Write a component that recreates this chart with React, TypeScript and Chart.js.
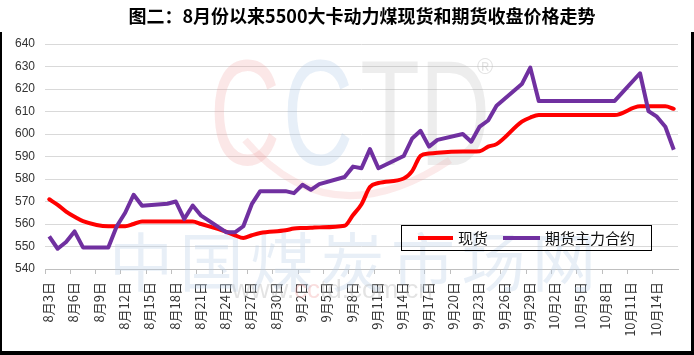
import React, { useEffect, useRef } from "react";
import { Chart, registerables } from "chart.js";

Chart.register(...registerables);

const TITLE = "图二：8月份以来5500大卡动力煤现货和期货收盘价格走势";
const SERIES_NAMES = ["现货", "期货主力合约"];

const DATES = [
  "8/3", "8/4", "8/5", "8/6", "8/7",
  "8/10", "8/11", "8/12", "8/13", "8/14",
  "8/17", "8/18", "8/19", "8/20", "8/21",
  "8/24", "8/25", "8/26", "8/27", "8/28",
  "8/31", "9/1", "9/2", "9/3", "9/4",
  "9/7", "9/8", "9/9", "9/10", "9/11",
  "9/14", "9/15", "9/16", "9/17", "9/18",
  "9/21", "9/22", "9/23", "9/24", "9/25",
  "9/28", "9/29", "9/30", "10/9",
  "10/12", "10/13", "10/14", "10/15", "10/16",
];

const SPOT = [
  571, 568.5, 565.5, 563.2, 561.3,
  559, 559, 559, 560, 561.1,
  561.1, 561.1, 561.1, 561.1, 560,
  556.5, 555, 553.8, 555, 556,
  557.2, 558, 558.2, 558.3, 558.5,
  559.2, 564, 568.8, 576.4, 578.2,
  580.2, 583.5, 590.3, 591.3, 591.7,
  592.2, 592.2, 592.3, 594.4, 595.5,
  605.5, 607.3, 608.4, 608.4,
  612.3, 612.3, 612.3, 612.3, 611.2,
];

const FUTURES = [
  554.5, 549, 552, 556.7, 549.6,
  549.6, 559, 565, 573, 568.1,
  569, 570, 562.2, 568.2, 563.7,
  556.3, 556.3, 559, 568.8, 574.6,
  574.6, 573.7, 577.4, 575.2, 577.7,
  580.9, 585.5, 584.8, 593.3, 584.8,
  590.2, 598, 601.4, 594.4, 597.4,
  600, 596.6, 603.3, 606, 612.6,
  622.2, 629.5, 614.7, 614.7,
  627, 610.2, 607.7, 603.2, 593,
];

const TICK_LABELS = [
  "8月3日", "8月6日", "8月9日", "8月12日", "8月15日", "8月18日", "8月21日",
  "8月24日", "8月27日", "8月30日", "9月2日", "9月5日", "9月8日", "9月11日",
  "9月14日", "9月17日", "9月20日", "9月23日", "9月26日", "9月29日",
  "10月2日", "10月5日", "10月8日", "10月11日", "10月14日",
];

const Y_MIN = 540;
const Y_MAX = 640;
const Y_STEP = 10;
const X_DAYS = 75;
const TICK_EVERY = 3;

function dayOffset(md: string): number {
  const [m, d] = md.split("/").map(Number);
  const base = Date.UTC(2020, 7, 3);
  return Math.round((Date.UTC(2020, m - 1, d) - base) / 86400000);
}

const CJK = '"Noto Sans CJK SC", "Noto Sans", sans-serif';
const LAT = '"Liberation Sans", Arial, sans-serif';

const decorPlugin = {
  id: "decor",
  beforeDatasetsDraw(chart: any) {
    const ctx = chart.ctx as CanvasRenderingContext2D;
    ctx.save();
    // CCTD watermark
    ctx.font = "150px " + LAT;
    ctx.textAlign = "center";
    ctx.textBaseline = "alphabetic";
    const letters: [string, number, string][] = [
      ["C", 245, "rgba(240,160,160,0.25)"],
      ["C", 318, "rgba(160,190,228,0.25)"],
      ["T", 390, "rgba(175,175,175,0.22)"],
      ["D", 455, "rgba(175,175,175,0.22)"],
    ];
    for (const [ch, x, col] of letters) {
      ctx.save();
      ctx.translate(x, 165);
      ctx.scale(0.65, 1);
      ctx.fillStyle = col;
      ctx.fillText(ch, 0, 0);
      ctx.restore();
    }
    ctx.beginPath();
    ctx.moveTo(245, 140);
    ctx.quadraticCurveTo(330, 240, 450, 160);
    ctx.strokeStyle = "rgba(240,160,160,0.22)";
    ctx.lineWidth = 7;
    ctx.stroke();
    ctx.font = "22px " + LAT;
    ctx.fillStyle = "rgba(175,175,175,0.35)";
    ctx.fillText("®", 485, 74);
    // 中国煤炭市场网
    ctx.font = "64px " + CJK;
    ctx.textBaseline = "middle";
    ctx.fillStyle = "rgba(185,205,232,0.33)";
    const wm = "中国煤炭市场网";
    for (let i = 0; i < wm.length; i++) {
      ctx.fillText(wm[i], 141 + i * 70.5, 262);
    }
    // url
    ctx.font = "26px " + LAT;
    ctx.textAlign = "left";
    ctx.textBaseline = "alphabetic";
    const parts: [string, string][] = [
      ["www.", "rgba(175,175,175,0.35)"],
      ["cc", "rgba(240,160,160,0.35)"],
      ["td.com.cn", "rgba(175,175,175,0.35)"],
    ];
    let ux = 232;
    for (const [t, col] of parts) {
      ctx.fillStyle = col;
      ctx.fillText(t, ux, 298);
      ux += ctx.measureText(t).width;
    }
    ctx.restore();
  },
  afterDatasetsDraw(chart: any) {
    const ctx = chart.ctx as CanvasRenderingContext2D;
    const ds = chart.data.datasets;
    ctx.save();
    ctx.strokeStyle = "#000";
    ctx.lineWidth = 1;
    ctx.strokeRect(401.5, 225.5, 250, 25);
    ctx.font = "15px " + CJK;
    ctx.textBaseline = "middle";
    ctx.textAlign = "left";
    const items = [
      { x0: 418, x1: 453, tx: 458 },
      { x0: 503, x1: 540, tx: 545 },
    ];
    items.forEach((it, i) => {
      ctx.beginPath();
      ctx.moveTo(it.x0, 238);
      ctx.lineTo(it.x1, 238);
      ctx.strokeStyle = ds[i].borderColor;
      ctx.lineWidth = 4;
      ctx.stroke();
      ctx.fillStyle = "#111";
      ctx.fillText(ds[i].label, it.tx, 238);
    });
    ctx.restore();
  },
  afterDraw(chart: any) {
    const ctx = chart.ctx as CanvasRenderingContext2D;
    ctx.save();
    ctx.font = "bold 18px " + CJK;
    ctx.fillStyle = "#000";
    ctx.textAlign = "center";
    ctx.textBaseline = "middle";
    ctx.fillText(TITLE, 362, 16);
    ctx.fillStyle = "#000";
    ctx.fillRect(0, 32, 2, 323);
    ctx.fillRect(691, 32, 3, 323);
    ctx.fillRect(0, 351, 694, 4);
    ctx.restore();
  },
};

export default function App() {
  const ref = useRef<HTMLCanvasElement | null>(null);

  useEffect(() => {
    document.body.style.margin = "0";
    const canvas = ref.current;
    if (!canvas) return;
    const spotPts = DATES.map((d, i) => ({ x: dayOffset(d) + 0.5, y: SPOT[i] }));
    const futPts = DATES.map((d, i) => ({ x: dayOffset(d) + 0.5, y: FUTURES[i] }));
    const chart = new Chart(canvas, {
      type: "line",
      data: {
        datasets: [
          {
            label: SERIES_NAMES[0],
            data: spotPts,
            borderColor: "#ff0000",
            backgroundColor: "#ff0000",
            borderWidth: 4,
            pointRadius: 0,
            cubicInterpolationMode: "monotone",
            borderJoinStyle: "round",
            borderCapStyle: "round",
            order: 2,
          },
          {
            label: SERIES_NAMES[1],
            data: futPts,
            borderColor: "#7030a0",
            backgroundColor: "#7030a0",
            borderWidth: 4,
            pointRadius: 0,
            tension: 0,
            borderJoinStyle: "round",
            order: 1,
          },
        ],
      },
      options: {
        animation: false,
        responsive: false,
        layout: { padding: { top: 44, right: 16, left: 0, bottom: 0 } },
        plugins: {
          legend: { display: false },
          title: { display: false },
          tooltip: { enabled: false },
        },
        scales: {
          x: {
            type: "linear",
            min: 0,
            max: X_DAYS,
            afterBuildTicks: (s: any) => {
              s.ticks = TICK_LABELS.map((_, i) => ({ value: i * TICK_EVERY }));
            },
            afterFit: (s: any) => {
              s.height = 86;
            },
            ticks: {
              autoSkip: false,
              minRotation: 90,
              maxRotation: 90,
              padding: 8,
              labelOffset: 3,
              color: "#333",
              font: { size: 13, family: CJK },
              callback: (v: any) => TICK_LABELS[Math.round(Number(v) / TICK_EVERY)] ?? "",
            },
            grid: {
              drawOnChartArea: false,
              drawTicks: true,
              tickLength: 5,
              color: "#bfbfbf",
            },
            border: { color: "#bfbfbf" },
          },
          y: {
            min: Y_MIN,
            max: Y_MAX,
            afterFit: (s: any) => {
              s.width = 45;
            },
            ticks: {
              stepSize: Y_STEP,
              padding: 10,
              color: "#333",
              font: { size: 12, family: LAT },
            },
            grid: { color: "#d9d9d9", drawTicks: false },
            border: { display: false },
          },
        },
      },
      plugins: [decorPlugin],
    });
    return () => chart.destroy();
  }, []);

  return (
    <div style={{ width: 694, height: 355, background: "#fff" }}>
      <canvas ref={ref} width={694} height={355} style={{ display: "block" }} />
    </div>
  );
}
